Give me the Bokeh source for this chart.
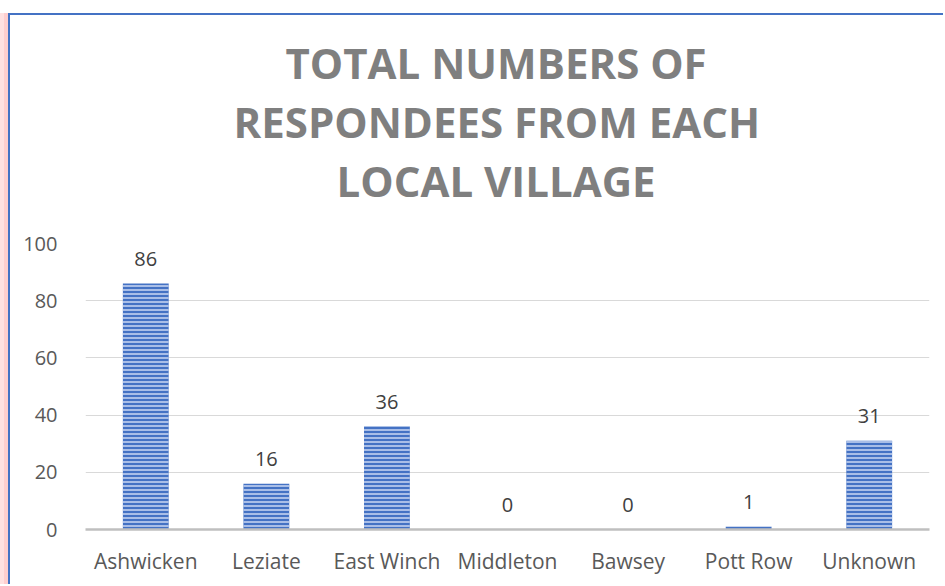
from bokeh.plotting import figure
from bokeh.models import ColumnDataSource, Range1d, LabelSet, Title
from bokeh.core.properties import value
from bokeh.embed import file_html
from bokeh.resources import INLINE

villages = ["Ashwicken", "Leziate", "East Winch", "Middleton", "Bawsey", "Pott Row", "Unknown"]
counts = [86, 16, 36, 0, 0, 1, 31]
y_ticks = [0, 20, 40, 60, 80, 100]
title_lines = ["TOTAL NUMBERS OF", "RESPONDEES FROM EACH", "LOCAL VILLAGE"]

FONT = "Open Sans"
W, H = 935, 571

p = figure(x_range=villages, y_range=Range1d(0, 100), width=W, height=H,
           output_backend="svg", toolbar_location=None,
           min_border_left=75, min_border_right=16, min_border_top=228, min_border_bottom=57)
p.title.visible = False
p.outline_line_color = None
p.background_fill_color = "white"
p.border_fill_color = "white"
p.styles = {"margin-left": "8px", "margin-top": "13px",
            "border-top": "2px solid #4472C4", "border-left": "2px solid #4472C4",
            "box-shadow": "-8px 0 0 0 rgba(255,205,205,0.6), -4px 0 0 0 rgba(255,170,170,0.55)"}

src = ColumnDataSource(dict(x=villages, top=counts, lab=[str(c) for c in counts]))
p.vbar(x="x", top="top", width=0.38, source=src, fill_color="#4472C4", line_color=None,
       hatch_pattern="horizontal_line", hatch_color="#bccdee", hatch_weight=1.7, hatch_scale=4)

labels = LabelSet(x="x", y="top", text="lab", source=src, text_align="center",
                  text_baseline="alphabetic", y_offset=18, text_font=value(FONT),
                  text_font_size=value("20px"), text_color=value("#404040"))
p.add_layout(labels)

# axes
p.xaxis.axis_line_color = "#bfbfbf"
p.xaxis.axis_line_width = 2.5
p.xaxis.major_tick_line_color = None
p.xaxis.minor_tick_line_color = None
p.xaxis.major_label_text_font = FONT
p.xaxis.major_label_text_font_size = "21px"
p.xaxis.major_label_text_color = "#595959"
p.xaxis.major_label_standoff = 11

p.yaxis.ticker = y_ticks
p.yaxis.axis_line_color = None
p.yaxis.major_tick_line_color = None
p.yaxis.minor_tick_line_color = None
p.yaxis.major_label_text_font = FONT
p.yaxis.major_label_text_font_size = "20px"
p.yaxis.major_label_text_color = "#595959"
p.yaxis.major_label_standoff = 22

p.xgrid.grid_line_color = None
p.ygrid.grid_line_color = "#d9d9d9"
p.ygrid.grid_line_width = 1.2

# spacer between frame and title block
p.add_layout(Title(text=" ", text_font_size="2px", standoff=31), "above")

# title, stacked upward from the frame (left-aligned with offsets to centre near x=495)
offsets = [200, 148, 251]
for txt, off in reversed(list(zip(title_lines, offsets))):
    p.add_layout(Title(text=txt, align="left", offset=off, text_font=FONT,
                       text_font_style="bold", text_font_size="42px",
                       text_color="#7f7f7f", standoff=0), "above")

open("out.html", "w").write(file_html(p, INLINE))
